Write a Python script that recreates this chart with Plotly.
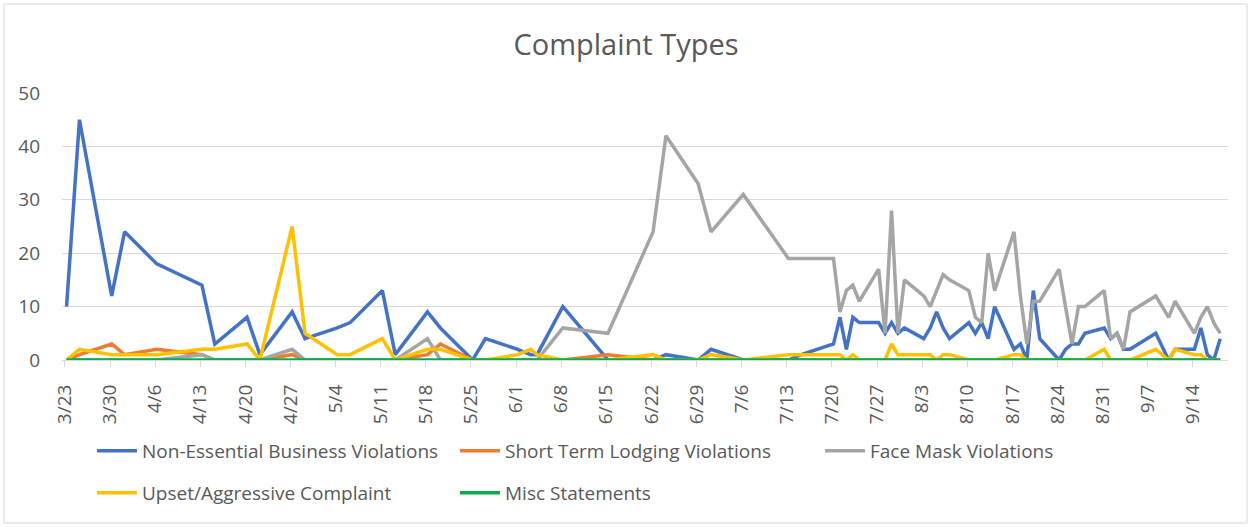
import pandas as pd
import plotly.graph_objects as go

# ---- data ----
dates = ["3/23", "3/25", "3/30", "4/1", "4/6", "4/13", "4/15", "4/20", "4/22", "4/27",
         "4/29", "5/4", "5/6", "5/11", "5/13", "5/18", "5/20", "5/25", "5/27", "6/1",
         "6/3", "6/4", "6/8", "6/15", "6/22", "6/24", "6/29", "7/1", "7/6", "7/13",
         "7/15", "7/20", "7/21", "7/22", "7/23", "7/24", "7/27", "7/28", "7/29", "7/30",
         "7/31", "8/3", "8/4", "8/5", "8/6", "8/7", "8/10", "8/11", "8/12", "8/13",
         "8/14", "8/17", "8/18", "8/19", "8/20", "8/21", "8/24", "8/25", "8/26", "8/27",
         "8/28", "8/31", "9/1", "9/2", "9/3", "9/4", "9/8", "9/10", "9/11", "9/14",
         "9/15", "9/16", "9/17", "9/18"]

non_essential = [10, 45, 12, 24, 18, 14, 3, 8, 1, 9,
                 4, 6, 7, 13, 1, 9, 6, 0, 4, 2,
                 1, 1, 10, 0, 0, 1, 0, 2, 0, 0,
                 1, 3, 8, 2, 8, 7, 7, 5, 7, 5,
                 6, 4, 6, 9, 6, 4, 7, 5, 7, 4,
                 10, 2, 3, 0, 13, 4, 0, 2, 3, 3,
                 5, 6, 4, 5, 2, 2, 5, 0, 2, 2,
                 6, 1, 0, 4]

short_term_lodging = [0, 1, 3, 1, 2, 1, 0, 0, 0, 1,
                      0, 0, 0, 0, 0, 1, 3, 0, 0, 0,
                      0, 0, 0, 1, 0, 0, 0, 0, 0, 0,
                      0, 0, 0, 0, 0, 0, 0, 0, 0, 0,
                      0, 0, 0, 0, 0, 0, 0, 0, 0, 0,
                      0, 0, 0, 0, 0, 0, 0, 0, 0, 0,
                      0, 0, 0, 0, 0, 0, 0, 0, 0, 0,
                      0, 0, 0, 0]

face_mask = [0, 0, 0, 0, 0, 1, 0, 0, 0, 2,
             0, 0, 0, 0, 0, 4, 0, 0, 0, 0,
             0, 0, 6, 5, 24, 42, 33, 24, 31, 19,
             19, 19, 9, 13, 14, 11, 17, 5, 28, 5,
             15, 12, 10, 13, 16, 15, 13, 8, 7, 20,
             13, 24, 12, 3, 11, 11, 17, 10, 3, 10,
             10, 13, 4, 5, 2, 9, 12, 8, 11, 5,
             8, 10, 7, 5]

upset_aggressive = [0, 2, 1, 1, 1, 2, 2, 3, 0, 25,
                    5, 1, 1, 4, 0, 2, 2, 0, 0, 1,
                    2, 1, 0, 0, 1, 0, 0, 1, 0, 1,
                    1, 1, 1, 0, 1, 0, 0, 0, 3, 1,
                    1, 1, 1, 0, 1, 1, 0, 0, 0, 0,
                    0, 1, 1, 0, 0, 0, 0, 0, 0, 0,
                    0, 2, 0, 0, 0, 0, 2, 0, 2, 1,
                    1, 0, 0, 0]

misc_statements = [0] * len(dates)

tick_labels = ["3/23", "3/30", "4/6", "4/13", "4/20", "4/27", "5/4", "5/11", "5/18",
               "5/25", "6/1", "6/8", "6/15", "6/22", "6/29", "7/6", "7/13", "7/20",
               "7/27", "8/3", "8/10", "8/17", "8/24", "8/31", "9/7", "9/14"]

series_names = ["Non-Essential Business Violations", "Short Term Lodging Violations",
                "Face Mask Violations", "Upset/Aggressive Complaint", "Misc Statements"]
series_values = [non_essential, short_term_lodging, face_mask, upset_aggressive, misc_statements]
colors = ["#4472C4", "#ED7D31", "#A5A5A5", "#FFC000", "#00B050"]

x = pd.to_datetime(["2020/" + d for d in dates], format="%Y/%m/%d")
tickvals = pd.to_datetime(["2020/" + d for d in tick_labels], format="%Y/%m/%d") - pd.Timedelta(hours=6)

FONT = "'Open Sans', sans-serif"
TXT = "#595959"

L, R, T, B = 62, 23, 93, 167
W, H = 1251, 527
pw, ph = W - L - R, H - T - B


def px_x(p):
    return (p - L) / pw


def px_y(p):
    return (H - B - p) / ph


# legend placement (line-sample start x, row centre y) for each series
legend_pos = [(92, 451), (455, 451), (820, 451), (92, 493), (455, 493)]
legend_ids = ["legend", "legend2", "legend3", "legend4", "legend5"]

fig = go.Figure()
for name, vals, col, lg in zip(series_names, series_values, colors, legend_ids):
    fig.add_trace(go.Scatter(x=x, y=vals, name=name, mode="lines",
                             line=dict(color=col, width=3.5), legend=lg))

legend_layout = {}
for lg, (lx, ly) in zip(legend_ids, legend_pos):
    legend_layout[lg] = dict(orientation="h", x=px_x(lx), xanchor="left",
                             y=px_y(ly), yanchor="middle",
                             font=dict(size=19, color=TXT, family=FONT),
                             bgcolor="rgba(0,0,0,0)", itemwidth=40)

fig.update_layout(
    width=W, height=H,
    margin=dict(l=L, r=R, t=T, b=B, autoexpand=False),
    paper_bgcolor="white", plot_bgcolor="white",
    font=dict(family=FONT, color=TXT),
    title=dict(text="Complaint Types", x=626 / W, xref="container", xanchor="center",
               y=1 - 45 / H, yref="container", yanchor="middle",
               font=dict(size=29, color=TXT, family=FONT)),
    showlegend=True,
    shapes=[dict(type="rect", xref="paper", yref="paper",
                 x0=px_x(4), x1=px_x(1247), y0=px_y(523), y1=px_y(4),
                 line=dict(color="#D9D9D9", width=1), fillcolor="rgba(0,0,0,0)", layer="below")],
    **legend_layout,
)

fig.update_xaxes(
    type="date",
    range=[pd.Timestamp("2020-03-22 07:00"), pd.Timestamp("2020-09-19 05:00")],
    tickvals=tickvals, ticktext=tick_labels, tickangle=-90,
    ticks="outside", ticklen=6, tickcolor="#D9D9D9",
    showline=True, linecolor="#D9D9D9", linewidth=1,
    showgrid=False, zeroline=False,
    tickfont=dict(size=19, color=TXT, family=FONT),
    ticklabelstandoff=10,
)
fig.update_yaxes(
    range=[0, 50], dtick=10, tick0=0,
    showgrid=True, gridcolor="#D9D9D9", gridwidth=1,
    zeroline=False, showline=False, ticks="",
    tickfont=dict(size=19, color=TXT, family=FONT),
    ticklabelstandoff=21,
)

fig.write_html("out.html", config={"displayModeBar": False},
               post_script="document.body.style.margin='0';")
